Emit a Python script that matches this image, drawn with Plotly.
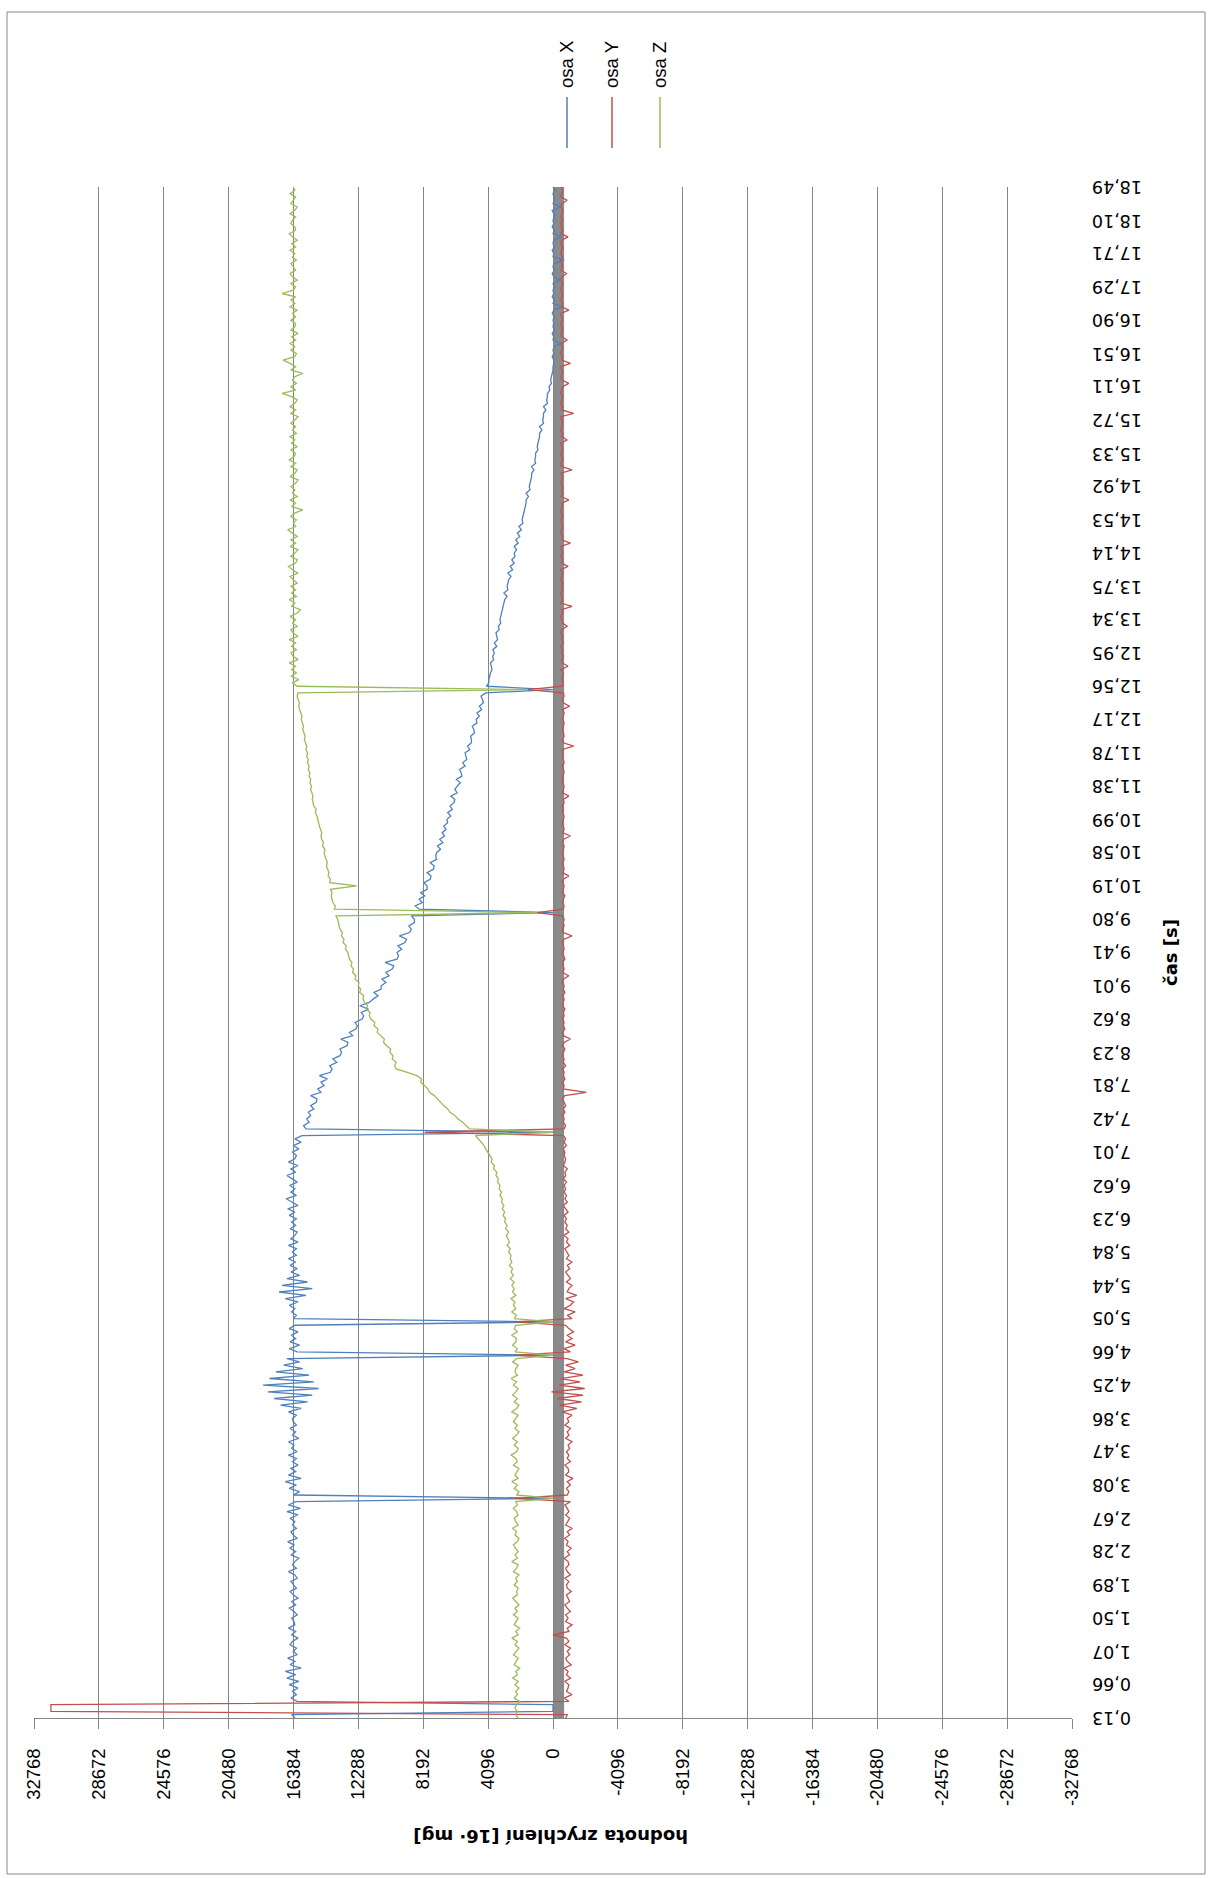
import plotly.graph_objects as go

# Category labels of the time axis (every 10th sample is labelled)
time_labels = [
    "0,13", "0,66", "1,07", "1,50", "1,89", "2,28", "2,67", "3,08", "3,47", "3,86",
    "4,25", "4,66", "5,05", "5,44", "5,84", "6,23", "6,62", "7,01", "7,42", "7,81",
    "8,23", "8,62", "9,01", "9,41", "9,80", "10,19", "10,58", "10,99", "11,38", "11,78",
    "12,17", "12,56", "12,95", "13,34", "13,75", "14,14", "14,53", "14,92", "15,33", "15,72",
    "16,11", "16,51", "16,90", "17,29", "17,71", "18,10", "18,49",
]
SAMPLES_PER_LABEL = 10

# Accelerometer readings [16 mg], one row per labelled interval
osa_x = [
    16300, 16500, 0, 0, 0, 16150, 16550, 16200, 16450, 16100,
    16650, 16050, 16800, 16250, 16900, 15900, 16600, 16300, 16750, 16150,
    16400, 16200, 16600, 16450, 16100, 16500, 16250, 16700, 16300, 16350,
    16500, 16150, 16350, 16650, 16250, 16500, 16100, 16400, 16600, 16200,
    16350, 16550, 16150, 16300, 16700, 16200, 16450, 16300, 16050, 16550,
    16250, 16600, 16350, 16750, 16150, 16400, 16550, 16200, 16450, 16300,
    16600, 16100, 16800, 15950, 16700, 16250, 0, 16400, 16000, 16650,
    16200, 16900, 15900, 16700, 16250, 16550, 16100, 16450, 16200, 16700,
    16150, 16500, 16350, 16700, 16050, 16450, 16250, 16600, 16200, 16400,
    16450, 16200, 16700, 15900, 17200, 15500, 17600, 15200, 18000, 14800,
    18300, 15100, 17900, 15400, 17500, 15800, 17000, 16000, 16800, 0,
    16150, 16650, 16000, 16600, 16250, 16500, 16100, 16650, 16300, 0,
    16400, 16200, 16500, 16300, 16650, 16100, 16900, 15600, 17300, 15200,
    17100, 15500, 16800, 16000, 16550, 16150, 16600, 16250, 16700, 16200,
    16450, 16200, 16700, 16100, 16550, 16300, 16150, 16600, 16250, 16500,
    16200, 16650, 16300, 16750, 16100, 16450, 16850, 16200, 16550, 16300,
    16600, 16150, 16450, 16800, 16250, 16550, 16100, 16700, 16300, 16200,
    16450, 16050, 16400, 15900, 16300, 15850, 0, 15600, 15750, 15400,
    15550, 15300, 15450, 15100, 15300, 14950, 14900, 15300, 14650, 14850,
    14450, 14650, 14250, 14750, 14050, 13950, 14100, 13650, 13900, 13450,
    13350, 13450, 13000, 12950, 13400, 12650, 12850, 12450, 12350, 12500,
    12050, 11950, 12100, 11650, 12200, 11600, 11350, 11050, 11300, 10850,
    10850, 10550, 10800, 10350, 10550, 10150, 10050, 10600, 9850, 9750,
    9850, 9550, 9800, 9350, 9250, 9700, 9050, 8950, 9100, 8750,
    8750, 8950, 0, 8450, 8700, 8250, 8450, 8100, 8350, 7950,
    7950, 8150, 7750, 7700, 7950, 7550, 7500, 7750, 7350, 7400,
    7350, 7100, 7300, 6950, 7150, 6850, 7000, 6750, 6900, 6650,
    6700, 6450, 6650, 6350, 6500, 6250, 6200, 6450, 6050, 6200,
    6050, 5850, 6100, 5750, 5800, 5900, 5550, 5700, 5450, 5500,
    5550, 5250, 5400, 5150, 5150, 5200, 4950, 5000, 5100, 4800,
    4850, 4650, 4800, 4500, 4650, 4400, 4450, 4550, 4250, 0,
    4200, 4050, 4050, 4000, 3950, 3850, 3900, 3950, 3750, 3800,
    3700, 3800, 3550, 3700, 3500, 3550, 3600, 3400, 3450, 3300,
    3350, 3300, 3250, 3200, 3150, 3100, 3050, 2900, 3100, 2850,
    2900, 2850, 2800, 2650, 2850, 2550, 2700, 2450, 2600, 2400,
    2450, 2300, 2450, 2200, 2350, 2100, 2250, 2000, 2150, 1900,
    1950, 1900, 1850, 1800, 1750, 1700, 1700, 1550, 1700, 1450,
    1500, 1450, 1400, 1350, 1350, 1200, 1350, 1100, 1150, 1100,
    1100, 950, 1000, 950, 900, 850, 850, 700, 850, 600,
    650, 600, 600, 450, 600, 350, 400, 350, 350, 200,
    250, 100, 150, 100, 50, 0, 0, -50, -50, 50,
    -50, 0, -100, -500, 0, -50, 50, -100, 0, -50,
    0, -100, 50, -50, -600, 0, -100, 50, -50, 0,
    -100, 0, -450, -50, 50, -100, 0, -50, -700, 0,
    -50, 50, -100, 0, -50, -550, 0, -100, 50, -50,
    0, -100, -50, 50, -500, 0, -100, -50, 0, -150,
    0,
]

osa_y = [
    -800, -900, 31700, 31700, 31700, -1000, -700, -1200, -850, -950,
    -1000, -750, -1100, -850, -950, -700, -1150, -900, -800, -1050,
    -900, -1100, -750, -1000, -850, 0, -1000, -900, -1200, -800,
    -950, -800, -1100, -900, -750, -1050, -950, -850, -1150, -900,
    -850, -1000, -750, -1100, -900, -800, -1000, -950, -700, -1050,
    -900, -1150, -850, -950, -750, -1050, -900, -1200, -800, -950,
    -1050, -800, -1000, -900, -750, -1100, 2400, -900, -1000, -850,
    -1100, -900, -1250, -800, -1000, -950, -750, -1100, -900, -1000,
    -850, -1050, -950, -1200, -800, -1000, -900, -1100, -750, -1000,
    -900, -1200, -600, -1500, -400, -1800, -300, -1900, 100, -2000,
    -400, -1700, -500, -1900, -700, -1400, -800, -1600, -900, 2400,
    -1100, -700, -1400, -800, -1200, -900, -1300, -1000, -800, 2400,
    -1200, -900, -1400, -700, -1100, -1300, -800, -1500, -900, -1000,
    -1200, -850, -1100, -950, -800, -1050, -900, -1200, -850, -1000,
    -900, -750, -1050, -850, -950, -700, -1000, -800, -900, -750,
    -850, -700, -950, -800, -650, -900, -750, -850, -700, -800,
    -700, -850, -650, -800, -750, -900, -650, -750, -800, -700,
    -750, -650, -850, -700, -800, -650, 8100, -700, -800, -650,
    -700, -600, -750, -650, -800, -700, -600, -750, -2100, -650,
    -700, -600, -750, -650, -700, -600, -800, -650, -700, -600,
    -650, -750, -600, -700, -1100, -650, -600, -750, -650, -700,
    -600, -700, -650, -750, -600, -650, -700, -600, -750, -650,
    -700, -600, -650, -1000, -600, -700, -650, -600, -750, -650,
    -600, -700, -650, -600, -700, -1200, -650, -600, -700, -650,
    -700, -600, 1000, -650, -700, -600, -650, -750, -600, -650,
    -700, -600, -650, -1000, -600, -700, -650, -600, -700, -650,
    -600, -650, -700, -600, -650, -1100, -600, -700, -650, -600,
    -650, -700, -600, -650, -600, -700, -650, -1000, -600, -650,
    -700, -600, -650, -600, -700, -650, -600, -700, -650, -600,
    -650, -600, -1300, -650, -600, -700, -650, -600, -650, -700,
    -600, -650, -700, -600, -1050, -650, -600, -700, -650, 1600,
    -600, -650, -550, -600, -650, -500, -950, -600, -550, -650,
    -550, -600, -500, -650, -550, -600, -500, -550, -900, -600,
    -550, -500, -600, -550, -1200, -500, -600, -550, -500, -600,
    -550, -600, -500, -550, -600, -500, -950, -550, -600, -500,
    -600, -550, -500, -1100, -550, -600, -500, -550, -600, -550,
    -500, -600, -550, -500, -600, -550, -1000, -500, -600, -550,
    -600, -500, -550, -600, -500, -1200, -550, -500, -600, -550,
    -500, -600, -550, -500, -900, -550, -600, -500, -550, -600,
    -550, -500, -1300, -550, -600, -500, -550, -600, -500, -550,
    -600, -1000, -550, -500, -600, -550, -500, -1100, -550, -600,
    -500, -550, -600, -500, -900, -550, -500, -600, -550, -500,
    -600, -550, -500, -1000, -550, -600, -500, -550, -600, -500,
    -550, -600, -500, -550, -850, -500, -600, -550, -500, -600,
    -500, -550, -600, -500, -550, -950, -500, -600, -550, -500,
    -600, -500, -550, -600, -500, -550, -900, -500, -550, -600,
    -550,
]

osa_z = [
    2200, 2350, 2250, 2400, 2300, 2100, 2450, 2250, 2350, 2150,
    2400, 2200, 2550, 2250, 2350, 2100, 2450, 2300, 2200, 2500,
    2300, 2150, 2400, 2250, 2600, 2200, 2350, 2100, 2450, 2300,
    2200, 2500, 2250, 2400, 2150, 2350, 2550, 2250, 2300, 2200,
    2450, 2250, 2350, 2150, 2500, 2300, 2200, 2600, 2250, 2400,
    2200, 2350, 2500, 2250, 2150, 2400, 2300, 2550, 2200, 2350,
    2450, 2200, 2300, 2500, 2250, 2350, 0, 2300, 2150, 2450,
    2250, 2600, 2200, 2400, 2300, 2150, 2500, 2250, 2350, 2650,
    2300, 2200, 2450, 2250, 2550, 2300, 2150, 2400, 2250, 2500,
    2350, 2200, 2600, 2300, 2150, 2450, 2250, 2550, 2350, 2200,
    2500, 2300, 2650, 2250, 2400, 2350, 2200, 2550, 2300, 0,
    2400, 2250, 2550, 2350, 2300, 2600, 2250, 2450, 2350, 0,
    2450, 2300, 2600, 2350, 2500, 2400, 2650, 2350, 2550, 2450,
    2600, 2450, 2700, 2500, 2650, 2550, 2750, 2600, 2700, 2650,
    2800, 2700, 2900, 2750, 2850, 2950, 2800, 3000, 2900, 3050,
    3000, 3150, 3050, 3200, 3100, 3250, 3200, 3350, 3250, 3400,
    3350, 3500, 3450, 3600, 3550, 3750, 3700, 3900, 3850, 4000,
    4100, 4250, 4350, 4550, 4700, 4900, 0, 5250, 5500, 5700,
    6000, 6200, 6500, 6650, 6900, 7100, 7350, 7500, 7800, 7900,
    8100, 8350, 8300, 8600, 9200, 9900, 10000, 9900, 10150, 10100,
    10300, 10250, 10500, 10700, 10650, 10900, 11100, 11050, 11300, 11250,
    11500, 11600, 11550, 11800, 11700, 11900, 12000, 11950, 12200, 12150,
    12300, 12250, 12500, 12450, 12650, 12600, 12750, 12700, 12850, 12900,
    12950, 13100, 13050, 13250, 13200, 13350, 13300, 13450, 13500, 13550,
    13600, 13700, 1000, 13800, 13750, 13900, 13950, 14000, 13950, 14050,
    12400, 14100, 14050, 14200, 14150, 14250, 14300, 14250, 14350, 14400,
    14450, 14400, 14550, 14500, 14600, 14650, 14600, 14700, 14750, 14800,
    14850, 14900, 15000, 14950, 15100, 15150, 15200, 15150, 15250, 15300,
    15250, 15350, 15300, 15400, 15350, 15450, 15400, 15500, 15450, 15550,
    15500, 15600, 15550, 15650, 15700, 15650, 15750, 15800, 15750, 15850,
    15900, 15850, 15950, 16000, 16050, 16000, 16100, 16150, 16100, 1600,
    16150, 16450, 16050, 16550, 16200, 16500, 16250, 16650, 16100, 16400,
    16550, 16200, 16500, 16250, 16650, 16100, 16400, 16550, 16150, 16450,
    16250, 16600, 16150, 15950, 16500, 16300, 16650, 16200, 16500, 16250,
    16550, 16150, 16400, 16600, 16100, 16450, 16700, 16250, 16150, 16550,
    16300, 16100, 16600, 16250, 16550, 16150, 16450, 16750, 16250, 16400,
    16200, 16550, 16300, 15800, 16500, 16250, 16600, 16150, 16450, 16300,
    16550, 16250, 16100, 16600, 16300, 16150, 16550, 16250, 16650, 16350,
    16250, 16550, 16150, 16500, 16300, 16600, 16200, 16450, 16250, 16550,
    16300, 16100, 16550, 16250, 16600, 16300, 16150, 16500, 17100, 16250,
    16550, 16200, 16450, 16300, 15800, 16550, 16250, 16600, 17050, 16300,
    16200, 16550, 16300, 16600, 16250, 16500, 16100, 16550, 16300, 16250,
    16550, 16250, 16450, 16150, 16600, 16300, 16550, 16250, 17100, 16400,
    16250, 16550, 16150, 16450, 16600, 16250, 16400, 16550, 16200, 16450,
    16300, 16600, 16250, 16500, 16150, 16450, 16650, 16250, 16300, 16550,
    16450, 16250, 16600, 16300, 16150, 16550, 16400, 16250, 16600, 16300,
    16400,
]

value_ticks = [32768, 28672, 24576, 20480, 16384, 12288, 8192, 4096, 0,
               -4096, -8192, -12288, -16384, -20480, -24576, -28672, -32768]

series = [("osa X", osa_x, "#4F81BD"), ("osa Y", osa_y, "#C0504D"), ("osa Z", osa_z, "#9BBB59")]

W, H = 1210, 1878
ML, MR, MT, MB = 34, 138, 187, 160
PW, PH = W - ML - MR, H - MT - MB
GRID = "#868686"


def px(x):
    return (x - ML) / PW


def py(y):
    return (H - MB - y) / PH


sample_idx = list(range(len(osa_x)))
n_last = sample_idx[-1]

fig = go.Figure()
for name, vals, color in series:
    fig.add_trace(go.Scatter(x=vals, y=sample_idx, mode="lines", name=name,
                             line=dict(color=color, width=1.3), showlegend=False))

shapes = []
# dense category tick marks along the zero crossing
shapes.append(dict(type="rect", xref="x", yref="paper", x0=0, x1=-700, y0=0, y1=1,
                   fillcolor="#8a8a8a", line=dict(width=0), layer="below"))
# chart frame
shapes.append(dict(type="rect", xref="paper", yref="paper",
                   x0=px(7), x1=px(1205), y0=py(1874), y1=py(12),
                   line=dict(color=GRID, width=1), layer="below"))

annotations = []
# time axis labels, upside down on the right side
for k, lab in enumerate(time_labels):
    annotations.append(dict(x=px(1090), xref="paper", y=k * SAMPLES_PER_LABEL, yref="y",
                            text=lab, showarrow=False, textangle=180,
                            xanchor="left", yanchor="middle",
                            font=dict(family="DejaVu Sans", size=17.5, color="#000")))

annotations.append(dict(x=px(1170), y=py(953), xref="paper", yref="paper", text="<b>čas [s]</b>",
                        showarrow=False, textangle=-90, xanchor="center", yanchor="middle",
                        font=dict(family="DejaVu Sans", size=18, color="#000")))
annotations.append(dict(x=px(551), y=py(1837), xref="paper", yref="paper",
                        text="<b>hodnota zrychlení [16· mg]</b>", showarrow=False, textangle=180,
                        xanchor="center", yanchor="middle",
                        font=dict(family="DejaVu Sans", size=18, color="#000")))

# legend entries drawn vertically
legend_x = [567, 612, 660]
for (name, _, color), lx in zip(series, legend_x):
    shapes.append(dict(type="line", xref="paper", yref="paper",
                       x0=px(lx), x1=px(lx), y0=py(148), y1=py(97),
                       line=dict(color=color, width=1.5)))
    annotations.append(dict(x=px(lx), y=py(65), xref="paper", yref="paper", text=name,
                            showarrow=False, textangle=-90, xanchor="center", yanchor="middle",
                            font=dict(family="Liberation Sans", size=18.5, color="#000")))

fig.update_layout(
    width=W, height=H,
    margin=dict(l=ML, r=MR, t=MT, b=MB, pad=0),
    paper_bgcolor="white", plot_bgcolor="white",
    shapes=shapes, annotations=annotations,
    xaxis=dict(range=[32768, -32768], tickmode="array", tickvals=value_ticks,
               ticktext=[str(v) for v in value_ticks], tickangle=-90,
               ticks="outside", ticklen=10, tickcolor=GRID, tickwidth=1,
               ticklabelstandoff=12,
               showline=True, linecolor=GRID, linewidth=1,
               showgrid=True, gridcolor=GRID, gridwidth=1, zeroline=False,
               tickfont=dict(family="Liberation Sans", size=18.5, color="#000")),
    yaxis=dict(range=[0, n_last], showticklabels=False, ticks="", showgrid=False,
               zeroline=False, showline=False),
)

fig.write_html("out.html")
